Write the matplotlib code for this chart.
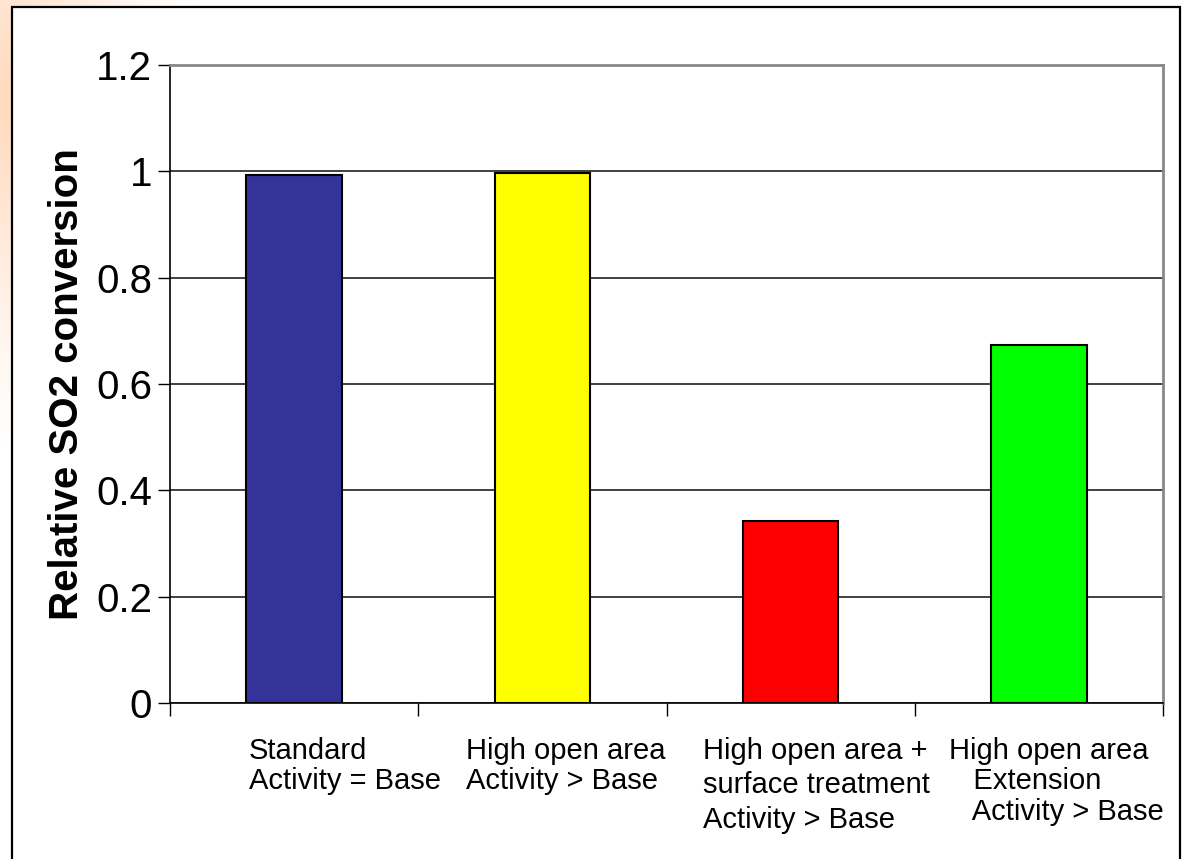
import matplotlib.pyplot as plt
import numpy as np
from matplotlib.patches import Rectangle
from matplotlib.ticker import FormatStrFormatter, FixedLocator

plt.rcParams['font.family'] = ['Liberation Sans', 'DejaVu Sans']

# relative conversion per catalyst type
categories = ["Standard\nActivity = Base",
              "High open area\nActivity > Base",
              "High open area +\nsurface treatment\nActivity > Base",
              "High open area\n   Extension\n   Activity > Base"]
values = [0.993, 0.997, 0.342, 0.673]
bar_colors = ['#333399', '#FFFF00', '#FF0000', '#00FF00']
y_ticks = [0, 0.2, 0.4, 0.6, 0.8, 1.0, 1.2]

# label placement: left edge offset from category centre, line spacing
label_dx = [-0.182, -0.308, -0.353, -0.362]
label_ls = [1.12, 1.12, 1.3, 1.12]

W, H = 1185, 859
fig = plt.figure(figsize=(W / 100, H / 100), dpi=100)

# background: soft orange glow in the top-left corner, white framed panel over it
bg = fig.add_axes([0, 0, 1, 1], zorder=-2)
yy, xx = np.mgrid[0:H, 0:W]
d = np.hypot((xx + 20) / 1.0, (yy - 100) / 1.5)
alpha = np.clip(1 - d / 240, 0, 1) ** 1.3 * 0.4
glow = np.zeros((H, W, 4))
glow[..., 0] = 1.0
glow[..., 1] = 0.6
glow[..., 2] = 0.3
glow[..., 3] = alpha
bg.imshow(glow, extent=[0, 1, 0, 1], aspect='auto', interpolation='bilinear')
bg.add_patch(Rectangle((12 / W, -0.02), (1180 - 12) / W, 1.02 - 7 / H,
                       facecolor='white', edgecolor='black', linewidth=1.6))
bg.set_xlim(0, 1)
bg.set_ylim(0, 1)
bg.axis('off')

ax = fig.add_axes([170 / W, 1 - 703 / H, (1163 - 170) / W, (703 - 65) / H])
x = np.arange(len(values))
ax.bar(x, values, width=0.385, color=bar_colors, edgecolor='black', linewidth=1.5, zorder=3)

ax.set_xlim(-0.5, len(values) - 0.5)
ax.set_ylim(0, 1.2)
ax.yaxis.set_major_locator(FixedLocator(y_ticks))
ax.yaxis.set_major_formatter(FormatStrFormatter('%g'))
ax.tick_params(axis='y', labelsize=29, length=9, width=1, direction='out', pad=4)
ax.set_xticks([])
ax.set_xticks(np.arange(-0.5, len(values)), minor=True)
ax.tick_params(axis='x', which='minor', length=9, width=1, direction='out')

ax.grid(axis='y', color='#404040', linewidth=1.4, zorder=0)
ax.set_axisbelow(True)
for side in ['left', 'bottom']:
    ax.spines[side].set_color('black')
    ax.spines[side].set_linewidth(1.2)
for side in ['top', 'right']:
    ax.spines[side].set_color('#888888')
    ax.spines[side].set_linewidth(2)

ax.set_ylabel('Relative SO2 conversion', fontsize=29, fontweight='bold')
ax.yaxis.set_label_coords(-0.085, 0.5)

trans = ax.get_xaxis_transform()
for i, label in enumerate(categories):
    ax.text(i + label_dx[i], -0.053, label, transform=trans, ha='left', va='top',
            fontsize=21, linespacing=label_ls[i], multialignment='left')

fig.savefig('out.png', dpi=100)
